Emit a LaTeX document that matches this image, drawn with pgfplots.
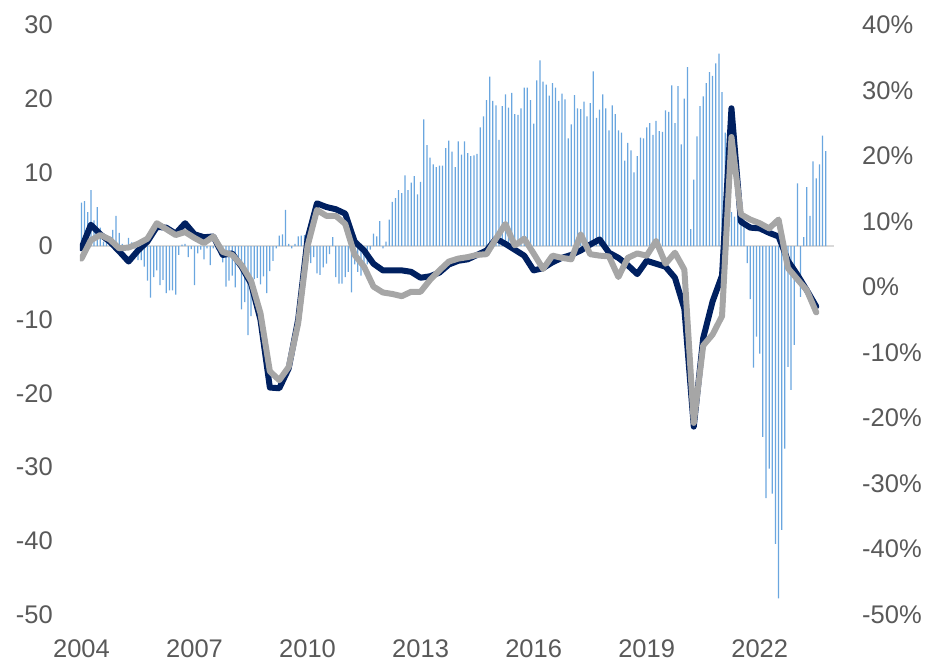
\documentclass[border=0pt]{standalone}
\usepackage{fontspec}
\setmainfont{Liberation Sans}
\usepackage{pgfplots}
\usepackage{pgfplotstable}
\pgfplotsset{compat=1.18}
\definecolor{navy}{HTML}{002060}
\definecolor{lgray}{HTML}{A6A6A6}
\definecolor{barblue}{HTML}{6AA6DF}
\definecolor{txt}{HTML}{595959}
\definecolor{zline}{HTML}{D9D9D9}

% monthly bars, m = months since Jan 2004
\pgfplotstableread{
m v
0 5.9
1 6.1
2 4.6
3 7.6
4 3.5
5 5.3
6 2.5
7 0.6
8 0.5
9 0.3
10 2.2
11 4.1
12 1.8
13 0.3
14 -0.2
15 1.1
16 0.5
17 -0.3
18 -1.9
19 -1.9
20 -2.8
21 -4.7
22 -7.0
23 -4.2
24 -3.3
25 -5.3
26 -4.6
27 -6.4
28 -6.0
29 -6.0
30 -6.6
31 -1.2
32 0.2
33 0.3
34 -1.5
35 -0.4
36 -5.3
37 -1.0
38 -0.5
39 -1.8
40 -0.3
41 -2.6
42 -0.3
43 -0.5
44 -1.2
45 -2.2
46 -5.5
47 -4.7
48 -4.0
49 -5.6
50 -2.9
51 -8.6
52 -7.6
53 -12.1
54 -9.5
55 -4.5
56 -4.3
57 -5.2
58 -4.1
59 -6.4
60 -3.4
61 -2.0
62 -0.3
63 1.4
64 1.6
65 4.9
66 0.3
67 -0.3
68 0.3
69 1.3
70 1.4
71 1.5
72 -1.0
73 -2.3
74 -1.5
75 -3.7
76 -3.9
77 -2.9
78 -2.4
79 -1.1
80 1.2
81 -4.2
82 -5.1
83 -5.1
84 -4.2
85 -3.5
86 -6.3
87 -2.5
88 -3.5
89 -4.0
90 -2.5
91 -2.5
92 -0.5
93 1.7
94 1.3
95 3.4
96 -0.3
97 0.6
98 3.6
99 6.0
100 6.5
101 7.6
102 7.2
103 9.6
104 7.6
105 8.6
106 9.5
107 7.0
108 8.7
109 17.2
110 13.7
111 12.0
112 11.1
113 10.7
114 10.9
115 10.9
116 13.3
117 14.3
118 12.8
119 10.7
120 14.2
121 12.4
122 14.2
123 12.6
124 12.2
125 12.3
126 12.5
127 16.1
128 17.6
129 19.8
130 23.0
131 19.7
132 19.1
133 14.4
134 19.0
135 20.6
136 18.8
137 20.8
138 17.9
139 17.8
140 18.7
141 21.5
142 21.5
143 19.8
144 16.6
145 22.5
146 25.2
147 22.3
148 21.9
149 20.4
150 22.1
151 21.5
152 19.7
153 20.7
154 19.9
155 14.6
156 16.5
157 20.5
158 18.7
159 18.6
160 19.6
161 17.6
162 19.4
163 23.7
164 17.4
165 18.5
166 20.6
167 18.7
168 15.7
169 19.1
170 17.9
171 15.7
172 15.4
173 11.6
174 14.0
175 13.0
176 10.0
177 12.2
178 14.7
179 14.6
180 16.1
181 16.7
182 15.1
183 17.0
184 15.6
185 15.5
186 18.4
187 18.2
188 21.8
189 16.7
190 21.7
191 13.8
192 20.0
193 24.3
194 2.3
195 9.0
196 14.9
197 19.0
198 20.3
199 22.1
200 23.6
201 23.1
202 24.8
203 26.1
204 20.9
205 15.4
206 10.0
207 4.6
208 4.0
209 4.3
210 3.9
211 3.6
212 -2.3
213 -7.2
214 -16.5
215 -12.3
216 -14.6
217 -25.9
218 -34.2
219 -30.2
220 -33.6
221 -40.4
222 -47.8
223 -38.5
224 -27.5
225 -16.4
226 -19.5
227 -13.4
228 8.5
229 -6.9
230 1.2
231 8.0
232 4.1
233 11.5
234 9.2
235 11.1
236 15.0
237 12.9
}\bars

% quarterly series, x in months since Jan 2004
\pgfplotstableread{
m v
0 -0.3
3 2.9
6 1.6
9 0.6
12 -0.7
15 -2.1
18 -0.6
21 0.6
24 2.6
27 2.5
30 1.7
33 3.1
36 1.6
39 1.2
42 1.3
45 -1.2
48 -1.0
51 -2.8
54 -5.1
57 -10.0
60 -19.2
63 -19.3
66 -16.6
69 -10.0
72 1.0
75 5.8
78 5.3
81 5.0
84 4.4
87 0.6
90 -0.6
93 -2.4
96 -3.3
99 -3.3
102 -3.3
105 -3.5
108 -4.3
111 -4.1
114 -3.6
117 -2.5
120 -2.0
123 -1.8
126 -1.2
129 -0.6
132 1.0
135 0.3
138 -0.5
141 -1.3
144 -3.3
147 -3.0
150 -2.2
153 -1.6
156 -1.2
159 -0.6
162 0.2
165 0.9
168 -0.9
171 -1.6
174 -2.6
177 -3.8
180 -2.0
183 -2.4
186 -2.8
189 -4.3
192 -8.5
195 -24.5
198 -12.5
201 -7.5
204 -4.0
207 18.7
210 3.3
213 2.5
216 2.4
219 1.8
222 1.3
225 -2.0
228 -3.9
231 -6.0
234 -8.2
}\navyT

\pgfplotstableread{
m v
0 -1.7
3 0.8
6 1.5
9 0.9
12 -0.3
15 -0.2
18 0.3
21 1.0
24 3.1
27 2.3
30 1.5
33 1.9
36 1.1
39 0.4
42 1.3
45 -0.8
48 -1.2
51 -2.6
54 -4.7
57 -9.1
60 -17.0
63 -18.2
66 -16.4
69 -10.5
72 0.0
75 4.9
78 4.1
81 4.1
84 3.0
87 -1.2
90 -2.8
93 -5.5
96 -6.3
99 -6.5
102 -6.8
105 -6.2
108 -6.2
111 -4.6
114 -3.3
117 -2.1
120 -1.7
123 -1.5
126 -1.2
129 -1.1
132 1.0
135 3.0
138 0.1
141 1.0
144 -1.0
147 -3.1
150 -1.3
153 -1.6
156 -1.8
159 1.6
162 -1.1
165 -1.3
168 -1.4
171 -4.2
174 -1.6
177 -1.0
180 -1.3
183 0.7
186 -2.4
189 -0.9
192 -3.2
195 -24.0
198 -13.5
201 -12.0
204 -9.5
207 14.8
210 4.3
213 3.6
216 3.1
219 2.4
222 3.6
225 -3.0
228 -4.5
231 -6.0
234 -9.0
}\grayT

\pgfplotsset{
  common/.style={
    at={(79.9pt,49.5pt)}, anchor=south west,
    scale only axis, width=753.6pt, height=589.5pt,
    xmin=-0.5, xmax=239.5,
    axis line style={draw=none},
    major tick length=0pt,
    tick label style={font=\fontsize{25.5}{30}\selectfont, text=txt},
    /pgf/number format/assume math mode=true,
  }
}

\begin{document}
\begin{tikzpicture}
\path[use as bounding box] (0,0) rectangle (926pt,664pt);
\begin{axis}[
  common,
  ymin=-50, ymax=30,
  xtick={0,36,...,216},
  xticklabels={2004,2007,2010,2013,2016,2019,2022},
  ytick={-50,-40,...,30},
  extra y ticks={0}, extra y tick labels={},
  extra y tick style={grid=major},
  major grid style={zline, line width=2pt},
  yticklabel style={anchor=east, inner sep=0pt, xshift=-26.9pt},
  xticklabel style={anchor=center, inner sep=0pt, yshift=-34.5pt},
]
\addplot[ybar, bar width=1.25pt, fill=barblue, draw=none] table[x=m, y=v] {\bars};
\addplot[navy, line width=6pt, line join=round, line cap=round] table[x=m, y=v] {\navyT};
\addplot[lgray, line width=6pt, line join=round, line cap=round] table[x=m, y=v] {\grayT};
\end{axis}
\begin{axis}[
  common,
  ymin=-50, ymax=40,
  hide x axis,
  axis y line*=right,
  ytick={-50,-40,...,40},
  yticklabel={\pgfmathprintnumber{\tick}\%},
  yticklabel style={anchor=west, inner sep=0pt, xshift=28.5pt},
]
\addplot[draw=none] coordinates {(0,0)};
\end{axis}
\end{tikzpicture}
\end{document}
